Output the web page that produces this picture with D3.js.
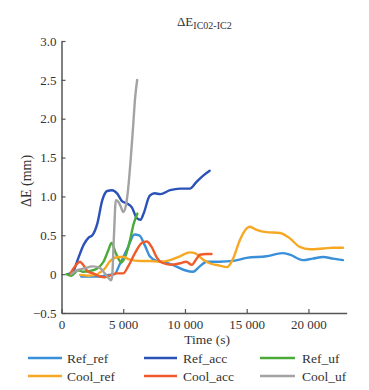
<!DOCTYPE html>
<html><head><meta charset="utf-8">
<script src="https://cdn.jsdelivr.net/npm/d3@7"></script>
<style>body{margin:0;background:#fff;} svg{display:block;} text{font-family:"Liberation Serif","DejaVu Serif",serif;}</style>
</head><body>
<svg id="chart" width="369" height="390"></svg>
<script>
const seriesNames = ["Ref_ref","Ref_acc","Ref_uf","Cool_ref","Cool_acc","Cool_uf"];
const seriesColors = ["#3a8fd9","#2b52b8","#4caa3a","#f7a823","#ef5b2a","#a3a3a3"];
const xTicks = [0,5000,10000,15000,20000];
const yTicks = [-0.5,0,0.5,1.0,1.5,2.0,2.5,3.0];

const Ref_ref = [[1600,-0.03],[2500,-0.03],[3100,-0.03],[3800,-0.01],[4300,0.0],[4700,0.12],[5400,0.35],[5900,0.51],[6300,0.50],[6750,0.37],[7150,0.23],[7700,0.17],[8100,0.16],[9000,0.12],[10000,0.05],[10650,0.03],[11200,0.10],[11750,0.16],[12800,0.16],[13900,0.17],[15000,0.21],[16600,0.23],[17900,0.27],[18500,0.25],[19550,0.18],[20350,0.20],[21200,0.22],[22000,0.20],[22800,0.18]];
const Ref_acc = [[500,0],[900,0.02],[1300,0.18],[1800,0.38],[2200,0.47],[2500,0.5],[2900,0.65],[3300,0.95],[3700,1.07],[4100,1.08],[4500,1.04],[4900,0.94],[5300,0.91],[5700,0.86],[6100,0.72],[6400,0.70],[6650,0.78],[7150,1.01],[7550,1.04],[8000,1.03],[8800,1.08],[9600,1.10],[10400,1.10],[10900,1.18],[11500,1.27],[12000,1.33]];
const Ref_uf = [[400,0],[800,-0.02],[1350,0.05],[1750,0.03],[2300,0.04],[2850,0.07],[3400,0.16],[3800,0.31],[4050,0.40],[4350,0.29],[4600,0.20],[4850,0.15],[5150,0.22],[5550,0.44],[5850,0.65],[6150,0.78]];
const Cool_ref = [[1500,-0.01],[2200,-0.02],[2800,-0.01],[3100,0.02],[3500,0.07],[3950,0.17],[4600,0.22],[5000,0.22],[5500,0.19],[6350,0.17],[7150,0.17],[7950,0.16],[8800,0.18],[9600,0.23],[10400,0.28],[10800,0.27],[11450,0.19],[12000,0.14],[12800,0.11],[13400,0.09],[13900,0.2],[14450,0.44],[15000,0.59],[15250,0.61],[15800,0.57],[16600,0.54],[17700,0.53],[18500,0.46],[19300,0.35],[20100,0.32],[21200,0.33],[22000,0.34],[22800,0.34]];
const Cool_acc = [[700,0],[1100,0.1],[1500,0.16],[1750,0.12],[2150,0.03],[2550,0.01],[3100,-0.03],[3500,-0.04],[4050,-0.01],[4450,0.01],[5000,0.01],[5400,0.1],[5950,0.27],[6500,0.40],[6900,0.42],[7300,0.35],[7700,0.22],[8100,0.15],[8900,0.12],[9600,0.14],[10100,0.16],[10550,0.12],[10950,0.20],[11200,0.25],[11750,0.26],[12150,0.26]];
const Cool_uf = [[800,0],[1250,0.05],[1750,0.07],[2550,0.10],[3100,0.08],[3500,0.01],[3800,-0.05],[4000,-0.08],[4100,-0.03],[4250,0.5],[4400,0.95],[4600,0.93],[4800,0.87],[5000,0.80],[5200,0.87],[5400,1.1],[5600,1.47],[5800,1.9],[5970,2.28],[6130,2.5]];
const seriesData = [Ref_ref,Ref_acc,Ref_uf,Cool_ref,Cool_acc,Cool_uf];

const svg = d3.select("#chart");
const mLeft = 61.5, mRight = 346.7, mTop = 41, mBottom = 313;
const x = d3.scaleLinear().domain([0,23100]).range([mLeft,mRight]);
const y = d3.scaleLinear().domain([-0.5,3.0]).range([mBottom,mTop]);
const font = "'Liberation Serif','DejaVu Serif',serif";
const axisColor = "#555";

const xAxis = svg.append("g").attr("transform",`translate(0,${mBottom})`)
  .call(d3.axisBottom(x).tickValues(xTicks).tickSizeInner(-4).tickSizeOuter(0).tickPadding(7)
    .tickFormat(d => d === 0 ? "0" : (d/1000) + " 000"));
const yAxis = svg.append("g").attr("transform",`translate(${mLeft},0)`)
  .call(d3.axisLeft(y).tickValues(yTicks).tickSizeInner(-4).tickSizeOuter(0).tickPadding(5)
    .tickFormat(d => d === 0 ? "0" : (d < 0 ? "\u22120.5" : d3.format(".1f")(d))));
[xAxis,yAxis].forEach(g => {
  g.attr("font-family",null);
  g.select(".domain").attr("stroke",axisColor).attr("stroke-width",1.5);
  g.selectAll(".tick line").attr("stroke",axisColor).attr("stroke-width",1.2);
  g.selectAll("text").style("font-family",font).style("font-size","13px").attr("fill","#333");
});

const line = d3.line().x(d => x(d[0])).y(d => y(d[1])).curve(d3.curveMonotoneX);
seriesData.forEach((data,i) => {
  svg.append("path").datum(data).attr("d",line).attr("fill","none")
    .attr("stroke",seriesColors[i]).attr("stroke-width",2.4)
    .attr("stroke-linejoin","round").attr("stroke-linecap","round");
});

// title
const title = svg.append("text").attr("x",177).attr("y",26).style("font-family",font).style("font-size","13px").attr("fill","#333");
title.append("tspan").text("\u0394E");
title.append("tspan").style("font-size","10px").attr("dy",3).text("IC02-IC2");

svg.append("text").attr("x",(mLeft+mRight)/2 + 3).attr("y",344).attr("text-anchor","middle")
  .style("font-family",font).style("font-size","13.5px").attr("fill","#333").text("Time (s)");
svg.append("text").attr("transform","translate(31,181) rotate(-90)").attr("text-anchor","middle")
  .style("font-family",font).style("font-size","14px").attr("fill","#333").text("\u0394E (mm)");

// legend
const legX = [[28,62,67],[144,177,183],[260,295,302]];
const legY = [358,376];
seriesNames.forEach((name,i) => {
  const col = i % 3, row = Math.floor(i/3);
  const g = svg.append("g");
  g.append("line").attr("x1",legX[col][0]).attr("x2",legX[col][1]).attr("y1",legY[row]).attr("y2",legY[row])
    .attr("stroke",seriesColors[i]).attr("stroke-width",2.6);
  g.append("text").attr("x",legX[col][2]).attr("y",legY[row]).attr("dy","0.35em")
    .style("font-family",font).style("font-size","13.5px").attr("fill","#333").text(name);
});
</script>
</body></html>
